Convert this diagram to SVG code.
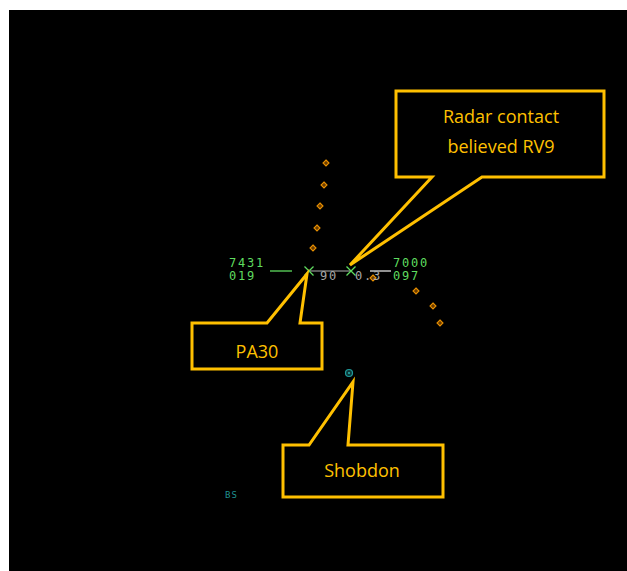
<svg xmlns="http://www.w3.org/2000/svg" width="627" height="571" viewBox="0 0 627 571">
<style>
.co{fill:#000;stroke:#FFC000;stroke-width:3;stroke-linejoin:miter}
.ct{font-family:"Open Sans","Noto Sans",sans-serif;font-size:18px;fill:#FFC000;text-anchor:middle}
.g{font-family:"DejaVu Sans Mono","Liberation Mono",monospace;font-size:12px;letter-spacing:1.8px;fill:#5fdc5f}
.w{font-family:"DejaVu Sans Mono","Liberation Mono",monospace;font-size:12px;letter-spacing:1.8px;fill:#a8a8a8}
.dm{fill:#6a3c00;stroke:#e89000;stroke-width:1.1}
.gx{stroke:#5fdc5f;stroke-width:1.3;fill:none}
</style>
<defs>
<path id="d" d="M0,-3 L3,0 L0,3 L-3,0 Z"/>
</defs>
<rect x="0" y="0" width="627" height="571" fill="#fff"/>
<rect x="9" y="10" width="618" height="561" fill="#000"/>
<g id="tracks">
<use href="#d" class="dm" x="326" y="163"/>
<use href="#d" class="dm" x="324" y="185"/>
<use href="#d" class="dm" x="320" y="206"/>
<use href="#d" class="dm" x="317" y="228"/>
<use href="#d" class="dm" x="313" y="248"/>
<use href="#d" class="dm" x="373" y="278"/>
<use href="#d" class="dm" x="416" y="291"/>
<use href="#d" class="dm" x="433" y="306"/>
<use href="#d" class="dm" x="440" y="323"/>
</g>
<g id="connectors">
<line x1="309" y1="271" x2="351" y2="271" stroke="#b0b0b0" stroke-width="1"/>
<line x1="270" y1="271" x2="292" y2="271" stroke="#5fdc5f" stroke-width="1.3"/>
<line x1="370" y1="271" x2="391" y2="271" stroke="#e0e0e0" stroke-width="1.3"/>
</g>
<g id="pa30-target">
<path class="gx" d="M304.5,266.5 L313.5,275.5 M313.5,266.5 L304.5,275.5"/>
<text class="g" x="229" y="266.5">7431</text>
<text class="g" x="229" y="279.5">019</text>
<text class="w" x="320" y="280">90</text>
</g>
<g id="rv9-target">
<path class="gx" d="M346.5,266.5 L355.5,275.5 M355.5,266.5 L346.5,275.5"/>
<text class="g" x="393" y="266.5">7000</text>
<text class="g" x="393" y="279.5">097</text>
<text class="w" x="355" y="280">0.3</text>
</g>
<g id="shobdon-symbol">
<circle cx="349" cy="373" r="3.5" fill="#0a3a3a" stroke="#1f9a9a" stroke-width="1.2"/>
<circle cx="349" cy="373" r="1" fill="#2ab0b0"/>
</g>
<g id="bs-label">
<text x="225" y="498" font-family="DejaVu Sans Mono,monospace" font-size="9px" letter-spacing="1px" fill="#1f9090">BS</text>
</g>
<g id="callout-rv9">
<path class="co" d="M396,91 H604 V177 H482 L350,265 L432,177 H396 Z"/>
<text class="ct" x="501" y="123">Radar contact</text>
<text class="ct" x="501" y="153">believed RV9</text>
</g>
<g id="callout-pa30">
<path class="co" d="M192,323 H267 L307,274 L300,323 H322 V369 H192 Z"/>
<text class="ct" x="257" y="358">PA30</text>
</g>
<g id="callout-shobdon">
<path class="co" d="M283,445 H309 L353,382 L348,445 H443 V497 H283 Z"/>
<text class="ct" x="362" y="477">Shobdon</text>
</g>
</svg>
